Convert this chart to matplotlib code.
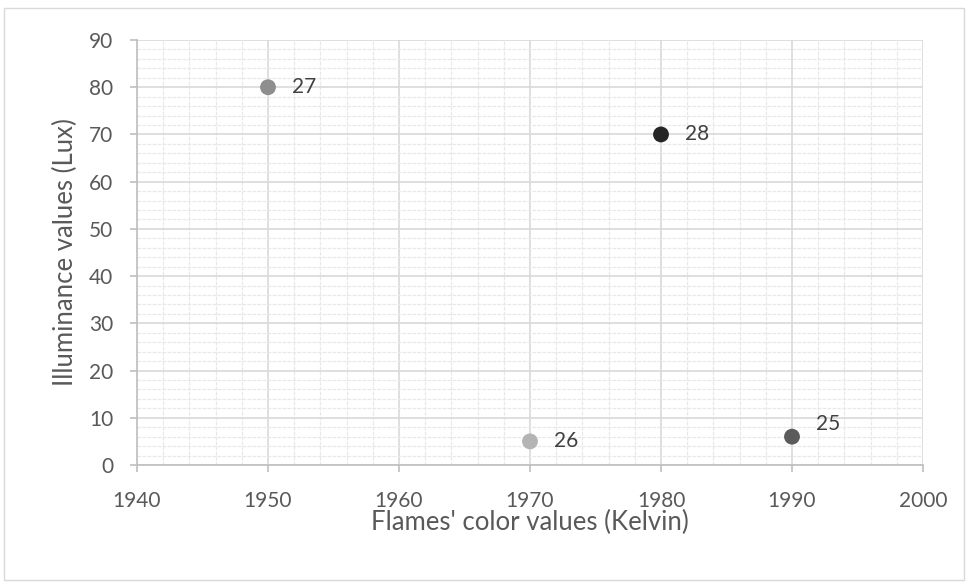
import matplotlib.pyplot as plt
from matplotlib.patches import Rectangle
from matplotlib.ticker import MultipleLocator

# data
kelvin = [1950, 1970, 1980, 1990]
lux = [80, 5, 70, 6]
labels = ['27', '26', '28', '25']
colors = ['#8e8e8e', '#b4b4b4', '#262626', '#5b5b5b']
label_offsets = [(17, 0), (17, 0), (17, 0), (17, 9)]

plt.rcParams['font.family'] = ['Lato', 'DejaVu Sans']

fig = plt.figure(figsize=(9.68, 5.88), dpi=100)
ax = fig.add_axes([137 / 968, 1 - 465 / 588, (923 - 137) / 968, (465 - 40) / 588])

# outer chart border
fig.patches.append(Rectangle((4 / 968, 8 / 588), 960 / 968, 572 / 588,
                             transform=fig.transFigure, fill=False,
                             edgecolor='#d9d9d9', linewidth=1))

ax.set_xlim(1940, 2000)
ax.set_ylim(0, 90)
ax.xaxis.set_major_locator(MultipleLocator(10))
ax.yaxis.set_major_locator(MultipleLocator(10))
ax.xaxis.set_minor_locator(MultipleLocator(2))
ax.yaxis.set_minor_locator(MultipleLocator(2))

ax.grid(which='major', color='#d9d9d9', linewidth=1.2)
ax.grid(which='minor', color='#e8e8e8', linewidth=0.9, linestyle=(0, (3, 1)))
ax.set_axisbelow(True)

for s in ['top', 'right']:
    ax.spines[s].set_visible(False)
for s in ['left', 'bottom']:
    ax.spines[s].set_color('#bfbfbf')
    ax.spines[s].set_linewidth(1.2)

ax.tick_params(which='major', length=5, color='#bfbfbf', width=1.2,
               labelsize=15, labelcolor='#595959')
ax.tick_params(axis='x', pad=14)
ax.tick_params(axis='y', pad=12)
ax.tick_params(which='minor', length=0)

ax.scatter(kelvin, lux, s=130, c=colors, zorder=3, linewidths=0)
for x, y, t, off in zip(kelvin, lux, labels, label_offsets):
    ax.annotate(t, (x, y), xytext=off, textcoords='offset points',
                va='center', ha='left', fontsize=15, color='#404040')

ax.set_xlabel("Flames' color values (Kelvin)", fontsize=18.5, color='#595959', va='center')
ax.set_ylabel('Illuminance values (Lux)', fontsize=18.5, color='#595959', va='center')
ax.xaxis.set_label_coords(0.5, (465 - 522) / 425)
ax.yaxis.set_label_coords((65 - 137) / 786, 0.5)

fig.savefig('out.png', dpi=100)
